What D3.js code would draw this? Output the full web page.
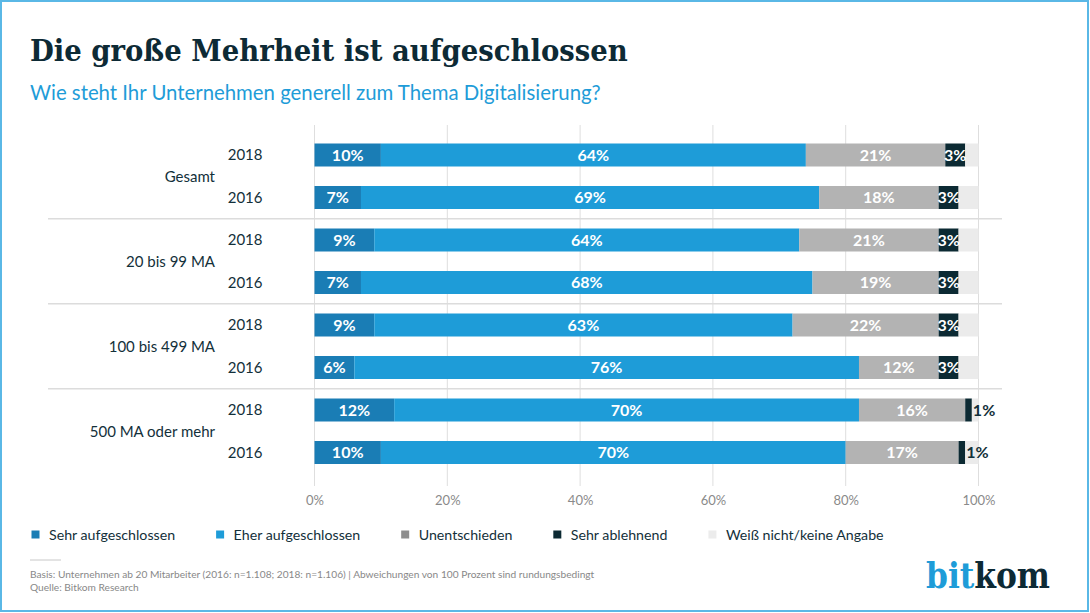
<!DOCTYPE html>
<html><head><meta charset="utf-8">
<script src="https://cdn.jsdelivr.net/npm/d3@7"></script>
<style>
html,body{margin:0;padding:0;background:#fff;}
svg{display:block;}
</style></head>
<body>
<svg id="c" width="1090" height="613"></svg>
<script>
// ---------- data ----------
const groups = ["Gesamt", "20 bis 99 MA", "100 bis 499 MA", "500 MA oder mehr"];
const years = ["2018", "2016"];
const seriesNames = ["Sehr aufgeschlossen", "Eher aufgeschlossen", "Unentschieden", "Sehr ablehnend", "Weiß nicht/keine Angabe"];
const sehrAufgeschlossen = [10, 7, 9, 7, 9, 6, 12, 10];
const eherAufgeschlossen = [64, 69, 64, 68, 63, 76, 70, 70];
const unentschieden      = [21, 18, 21, 19, 22, 12, 16, 17];
const sehrAblehnend      = [3, 3, 3, 3, 3, 3, 1, 1];
const weissNicht         = [2, 3, 3, 3, 3, 3, 1, 2];
const tickValues = [0, 20, 40, 60, 80, 100];
const title = "Die große Mehrheit ist aufgeschlossen";
const subtitle = "Wie steht Ihr Unternehmen generell zum Thema Digitalisierung?";
const footer1 = "Basis: Unternehmen ab 20 Mitarbeiter (2016: n=1.108; 2018: n=1.106) | Abweichungen von 100 Prozent sind rundungsbedingt";
const footer2 = "Quelle: Bitkom Research";

// ---------- styles ----------
const barColors = ["#1a7db5", "#1e9cd8", "#b3b3b3", "#0c2a33", "#ebebeb"];
const legendColors = ["#1a7db5", "#1e9cd8", "#8e8e8e", "#0c2a33", "#ececec"];
const dark = "#13303a";
const sans = "Lato, 'Open Sans', sans-serif";
const serif = "'DejaVu Serif', serif";

const svg = d3.select("#c");

// frame
svg.append("rect").attr("x", 1).attr("y", 1).attr("width", 1087).attr("height", 610)
  .attr("fill", "none").attr("stroke", "#5ab8e6").attr("stroke-width", 2);

function fitText(sel, target) {
  const fs = parseFloat(sel.attr("font-size"));
  const w = sel.node().getComputedTextLength();
  sel.attr("font-size", fs * target / w);
}

// title
const t = svg.append("text").attr("x", 30).attr("y", 61).text(title)
  .attr("font-family", serif).attr("font-weight", "bold").attr("font-stretch", "condensed")
  .attr("font-size", 30).attr("fill", "#0d2a35");
fitText(t, 598);
const st = svg.append("text").attr("x", 30).attr("y", 100).text(subtitle)
  .attr("font-family", sans).attr("font-size", 20).attr("fill", "#1e9cd8");
fitText(st, 571);

// rows
const rows = groups.flatMap((g, gi) => years.map((yr, yi) => ({ group: g, year: yr, idx: gi * 2 + yi })));
const series = [sehrAufgeschlossen, eherAufgeschlossen, unentschieden, sehrAblehnend, weissNicht];
const table = rows.map(r => {
  const o = { idx: r.idx };
  seriesNames.forEach((n, si) => o[n] = series[si][r.idx]);
  return o;
});
const stacked = d3.stack().keys(seriesNames)(table);

const x = d3.scaleLinear().domain([0, 100]).range([314.5, 978.5]);
const y = d3.scaleBand().domain(d3.range(rows.length)).range([133.75, 473.75])
  .paddingInner(0.4588).paddingOuter(0.2294);

// gridlines
svg.append("g").selectAll("line").data(tickValues).join("line")
  .attr("x1", d => x(d)).attr("x2", d => x(d)).attr("y1", 125).attr("y2", 486)
  .attr("stroke", "#dedede").attr("stroke-width", 1);

// axis
const axis = svg.append("g").attr("transform", "translate(0,486)")
  .call(d3.axisBottom(x).tickValues(tickValues).tickFormat(d => d + "%").tickSize(0).tickPadding(10));
axis.select(".domain").remove();
axis.selectAll("text").attr("font-family", sans).attr("font-size", 13).attr("fill", "#8a8a8a");

// group separators
for (let gi = 1; gi < groups.length; gi++) {
  const yy = (y(gi * 2 - 1) + y(gi * 2) + y.bandwidth()) / 2;
  svg.append("line").attr("x1", 48).attr("x2", 1002).attr("y1", yy).attr("y2", yy)
    .attr("stroke", "#dcdcdc").attr("stroke-width", 1.5);
}

// bars
const layers = svg.append("g").selectAll("g").data(stacked).join("g")
  .attr("fill", (d, i) => barColors[i]);
layers.selectAll("rect").data(d => d).join("rect")
  .attr("x", d => x(d[0])).attr("width", d => x(d[1]) - x(d[0]))
  .attr("y", d => y(d.data.idx)).attr("height", y.bandwidth());

// bar labels
stacked.forEach((layer, si) => {
  if (si === 4) return;
  layer.forEach(d => {
    const v = d.data[seriesNames[si]];
    const cy = y(d.data.idx) + y.bandwidth() / 2;
    const txt = svg.append("text").text(v + "%")
      .attr("font-family", sans).attr("font-weight", "bold").attr("font-size", 16)
      .attr("y", cy).attr("dy", "0.36em");
    if (si === 3 && v < 2) {
      txt.attr("x", x(d[1]) + 1).attr("text-anchor", "start").attr("fill", dark);
    } else {
      txt.attr("x", (x(d[0]) + x(d[1])) / 2).attr("text-anchor", "middle").attr("fill", "#fff");
    }
  });
});

// year labels
svg.append("g").selectAll("text").data(rows).join("text")
  .attr("x", 262.5).attr("y", d => y(d.idx) + y.bandwidth() / 2).attr("dy", "0.36em")
  .attr("text-anchor", "end").attr("font-family", sans).attr("font-size", 15).attr("fill", dark)
  .text(d => d.year);

// group labels
svg.append("g").selectAll("text").data(groups).join("text")
  .attr("x", 215).attr("y", (d, gi) => (y(gi * 2) + y(gi * 2 + 1) + y.bandwidth()) / 2).attr("dy", "0.36em")
  .attr("text-anchor", "end").attr("font-family", sans).attr("font-size", 15).attr("fill", dark)
  .text(d => d);

// legend
let lx = 31.5;
seriesNames.forEach((n, i) => {
  svg.append("rect").attr("x", lx).attr("y", 530.5).attr("width", 8).attr("height", 8).attr("fill", legendColors[i]);
  const lt = svg.append("text").attr("x", lx + 17.5).attr("y", 534.5).attr("dy", "0.36em")
    .attr("font-family", sans).attr("font-size", 14.2).attr("fill", dark).text(n);
  lx = lx + 17.5 + lt.node().getComputedTextLength() + 41;
});

// footer
svg.append("line").attr("x1", 30).attr("x2", 61).attr("y1", 560).attr("y2", 560)
  .attr("stroke", "#c8c8c8").attr("stroke-width", 1);
const f1 = svg.append("text").attr("x", 30).attr("y", 578).text(footer1)
  .attr("font-family", sans).attr("font-size", 10.5).attr("fill", "#888");
fitText(f1, 565);
svg.append("text").attr("x", 30).attr("y", 591).text(footer2)
  .attr("font-family", sans).attr("font-size", f1.attr("font-size")).attr("fill", "#888");

// logo
const logo = svg.append("text").attr("x", 926).attr("y", 588)
  .attr("font-family", serif).attr("font-weight", "bold").attr("font-stretch", "condensed").attr("font-size", 34);
logo.append("tspan").attr("fill", "#1e9cd8").text("bit");
logo.append("tspan").attr("fill", "#0d2a35").text("kom");
fitText(logo, 124);
</script>
</body></html>
